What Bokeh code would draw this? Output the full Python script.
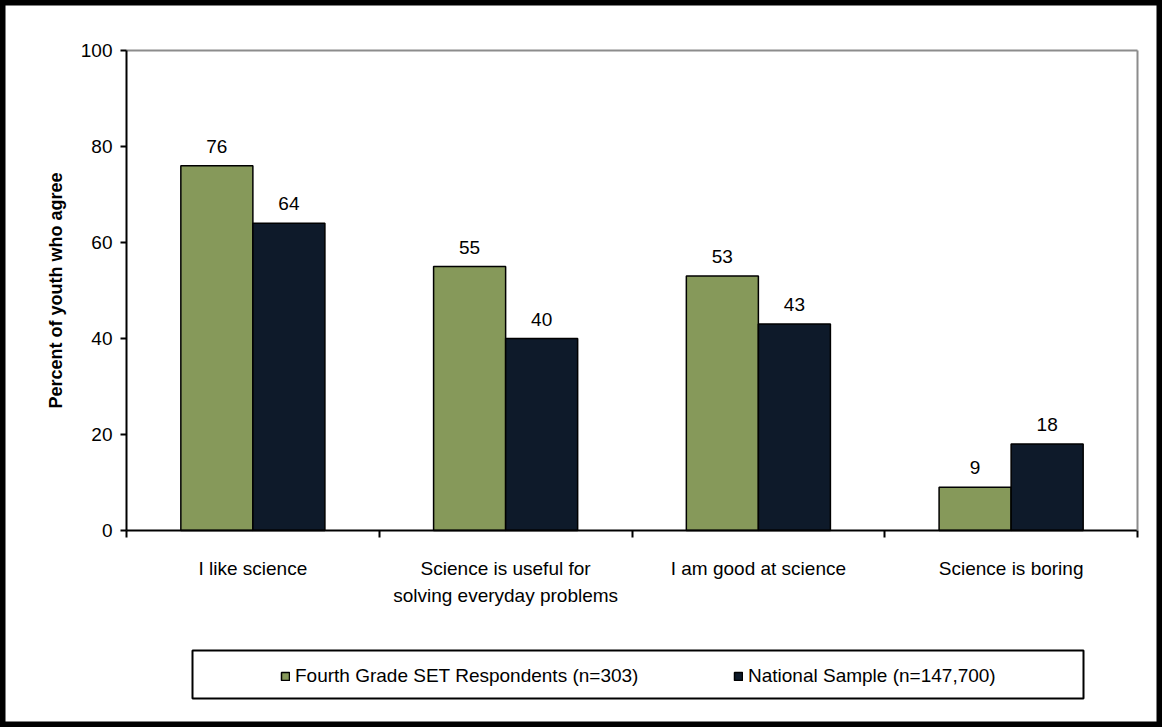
import numpy as np
from bokeh.plotting import figure
from bokeh.models import (ColumnDataSource, FixedTicker, Legend, LegendItem,
                          BoxAnnotation, LabelSet, Range1d, LinearAxis)
from bokeh.core.properties import value
from bokeh.embed import file_html
from bokeh.resources import INLINE

# --- data -------------------------------------------------------------
categories = [
    "I like science",
    "Science is useful for\nsolving everyday problems",
    "I am good at science",
    "Science is boring",
]
fourth_grade = [76, 55, 53, 9]
national = [64, 40, 43, 18]
series_names = ["Fourth Grade SET Respondents (n=303)", "National Sample (n=147,700)"]
y_ticks = [0, 20, 40, 60, 80, 100]
y_title = "Percent of youth who agree"

# --- style ------------------------------------------------------------
FONT = "Liberation Sans"
GREEN = "#86995A"
NAVY = "#0E1A2A"
GREY = "#8c8c8c"
BAR_W = 0.285
W, H = 1162, 727

# plot area placement on the canvas (pixels)
AREA_L, AREA_R, AREA_T, AREA_B = 126, 1137, 50, 530

n = len(categories)
y_max = y_ticks[-1]
px_x = (AREA_R - AREA_L) / n
px_y = (AREA_B - AREA_T) / y_max
x_range = Range1d(-AREA_L / px_x, n + (W - AREA_R) / px_x)
y_range = Range1d(-(H - AREA_B) / px_y, y_max + AREA_T / px_y)

centers = np.arange(n) + 0.5
x_green = centers - BAR_W / 2
x_navy = centers + BAR_W / 2

p = figure(width=W, height=H, x_range=x_range, y_range=y_range,
           output_backend="svg", toolbar_location=None,
           x_axis_location=None, y_axis_location=None,
           min_border=0, min_border_left=0, min_border_right=0,
           min_border_top=0, min_border_bottom=0)
p.background_fill_color = "white"
p.border_fill_color = "white"
p.grid.visible = False
# heavy black frame around the whole chart
p.outline_line_color = "black"
p.outline_line_width = 10

src_g = ColumnDataSource(dict(x=x_green, top=fourth_grade,
                              label=[str(v) for v in fourth_grade]))
src_n = ColumnDataSource(dict(x=x_navy, top=national,
                              label=[str(v) for v in national]))

r_g = p.vbar(x="x", top="top", width=BAR_W, source=src_g,
             fill_color=GREEN, line_color="black", line_width=1.5)
r_n = p.vbar(x="x", top="top", width=BAR_W, source=src_n,
             fill_color=NAVY, line_color="black", line_width=1.5)

for src in (src_g, src_n):
    p.add_layout(LabelSet(x="x", y="top", text="label", source=src,
                          text_align="center", text_baseline="alphabetic",
                          y_offset=13, text_font=value(FONT),
                          text_font_size=value("19px"), text_color="black"))

# --- grey top / right borders of the plot area ---------------------------
right_edge = LinearAxis(fixed_location=n, bounds=(0, y_max),
                        ticker=FixedTicker(ticks=[]), axis_line_color=GREY,
                        axis_line_width=2, major_tick_line_color=None,
                        minor_tick_line_color=None,
                        major_label_text_font_size="0px")
p.add_layout(right_edge, "right")
top_edge = LinearAxis(fixed_location=y_max, bounds=(0, n),
                      ticker=FixedTicker(ticks=[]), axis_line_color=GREY,
                      axis_line_width=2, major_tick_line_color=None,
                      minor_tick_line_color=None,
                      major_label_text_font_size="0px")
p.add_layout(top_edge, "above")

# --- y axis -----------------------------------------------------------
yax = LinearAxis(fixed_location=0, bounds=(0, y_max))
yax.ticker = FixedTicker(ticks=y_ticks)
yax.axis_line_color = "black"
yax.axis_line_width = 2
yax.major_tick_line_color = "black"
yax.major_tick_line_width = 2
yax.major_tick_out = 6
yax.major_tick_in = 0
yax.minor_tick_line_color = None
yax.major_label_standoff = 8
yax.major_label_text_font = FONT
yax.major_label_text_font_size = "19px"
yax.major_label_text_color = "black"
yax.axis_label = y_title
yax.axis_label_text_font = FONT
yax.axis_label_text_font_size = "18px"
yax.axis_label_text_font_style = "bold"
yax.axis_label_text_color = "black"
yax.axis_label_standoff = 12
p.add_layout(yax, "left")

# --- x axis -----------------------------------------------------------
xax = LinearAxis(fixed_location=0, bounds=(0, n))
xax.ticker = FixedTicker(ticks=list(centers), minor_ticks=list(range(n + 1)))
xax.major_label_overrides = {float(c): lab for c, lab in zip(centers, categories)}
xax.axis_line_color = "black"
xax.axis_line_width = 2
xax.major_tick_out = 0
xax.major_tick_in = 0
xax.major_tick_line_color = None
xax.minor_tick_out = 7
xax.minor_tick_in = 0
xax.minor_tick_line_color = "black"
xax.minor_tick_line_width = 2
xax.major_label_standoff = 20
xax.major_label_text_font = FONT
xax.major_label_text_font_size = "19px"
xax.major_label_text_color = "black"
xax.major_label_text_line_height = 1.3
p.add_layout(xax, "below")

# --- legend -----------------------------------------------------------
p.add_layout(BoxAnnotation(left=192, right=1083, top=H - 650, bottom=H - 698,
                           left_units="screen", right_units="screen",
                           top_units="screen", bottom_units="screen",
                           fill_color="white", fill_alpha=1.0,
                           line_color="black", line_alpha=1.0, line_width=2))

for name, rend, lx in ((series_names[0], r_g, 280), (series_names[1], r_n, 733)):
    lg = Legend(items=[LegendItem(label=name, renderers=[rend])],
                location=(lx, H - 687), orientation="horizontal",
                padding=0, margin=0, spacing=0,
                glyph_width=10, glyph_height=10, label_standoff=5,
                label_height=20,
                label_text_font=FONT, label_text_font_size="19px",
                label_text_color="black",
                border_line_color=None, background_fill_alpha=0)
    p.add_layout(lg)

open("out.html", "w").write(file_html(p, INLINE))
